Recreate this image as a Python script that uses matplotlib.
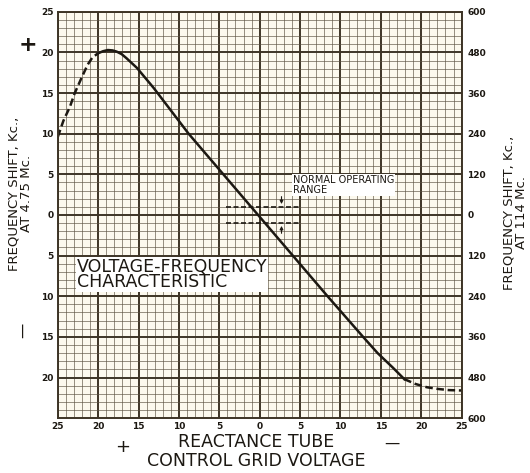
import matplotlib
matplotlib.use("Agg")
import matplotlib.pyplot as plt
from matplotlib.ticker import MultipleLocator, FixedLocator

# grid voltage (left = +25 V, right = -25 V) vs frequency shift in kc at 4.75 Mc
dash_left_v = [25.0, 24.3, 23.5, 22.9, 22.0, 21.3, 20.7, 20.0]
dash_left_f = [9.6, 11.6, 13.3, 15.0, 17.0, 18.5, 19.4, 19.9]

solid_v = [20.0, 19.4, 18.8, 18.2, 17.7, 17.1, 16.5, 15.2, 13.1, 8.8, 4.5,
           0.2, -4.1, -8.4, -12.8, -14.6, -16.5, -17.9]
solid_f = [19.9, 20.15, 20.3, 20.25, 20.1, 19.8, 19.3, 18.1, 15.6, 10.0, 5.0,
           0.0, -5.0, -10.0, -15.0, -17.0, -18.8, -20.2]

dash_right_v = [-17.9, -19.3, -20.7, -22.0, -23.4, -25.0]
dash_right_f = [-20.2, -20.8, -21.2, -21.4, -21.55, -21.6]

# normal operating range limits
range_f = [1.0, -1.0]
range_v = (4.2, -5.0)

x_ticks = [-25, -20, -15, -10, -5, 0, 5, 10, 15, 20, 25]
y_ticks = [-20, -15, -10, -5, 0, 5, 10, 15, 20, 25]
y2_ticks = [-600, -480, -360, -240, -120, 0, 120, 240, 360, 480, 600]

ink = "#1c1812"
grid_col = "#3d3426"
minor_col = "#5c5242"
paper = "#fcf9ee"

fig = plt.figure(figsize=(5.30, 4.73), dpi=100)
ax = fig.add_axes([0.109, 0.116, 0.762, 0.859])
ax.set_facecolor(paper)
ax.set_xlim(25, -25)
ax.set_ylim(-25, 25)

ax.xaxis.set_major_locator(FixedLocator(x_ticks))
ax.set_xticklabels([str(abs(v)) for v in x_ticks])
ax.yaxis.set_major_locator(FixedLocator(y_ticks))
ax.set_yticklabels([str(abs(v)) for v in y_ticks])
ax.xaxis.set_minor_locator(MultipleLocator(1))
ax.yaxis.set_minor_locator(MultipleLocator(1))
ax.grid(which="major", color=grid_col, lw=1.4)
ax.grid(which="minor", color=minor_col, lw=0.45)
ax.set_axisbelow(True)
ax.tick_params(which="both", length=0, labelsize=6.5, colors=ink, pad=3)
for lab in ax.get_xticklabels() + ax.get_yticklabels():
    lab.set_fontweight("bold")
for s in ax.spines.values():
    s.set_color(grid_col)
    s.set_linewidth(1.4)

ax2 = ax.twinx()
ax2.set_ylim(-600, 600)
ax2.yaxis.set_major_locator(FixedLocator(y2_ticks))
ax2.set_yticklabels([str(abs(v)) for v in y2_ticks])
ax2.tick_params(length=0, labelsize=6.5, colors=ink, pad=4)
for lab in ax2.get_yticklabels():
    lab.set_fontweight("bold")
for s in ax2.spines.values():
    s.set_visible(False)

# characteristic curve
ax.plot(dash_left_v, dash_left_f, color=ink, lw=1.8, ls=(0, (3, 1.5)))
ax.plot(solid_v, solid_f, color=ink, lw=1.8)
ax.plot(dash_right_v, dash_right_f, color=ink, lw=1.8, ls=(0, (3, 1.5)))

# normal operating range
for f in range_f:
    ax.plot(range_v, [f, f], color=ink, lw=1.2, ls=(0, (3, 1.5)))
ax.annotate("", xy=(-2.7, range_f[0]), xytext=(-2.7, range_f[0] + 1.6),
            arrowprops=dict(arrowstyle="-|>", color=ink, lw=0.8, mutation_scale=5))
ax.annotate("", xy=(-2.7, range_f[1]), xytext=(-2.7, range_f[1] - 1.6),
            arrowprops=dict(arrowstyle="-|>", color=ink, lw=0.8, mutation_scale=5))
ax.text(-4.1, 3.7, "NORMAL OPERATING\nRANGE", fontsize=7, color=ink,
        ha="left", va="center", linespacing=1.05,
        bbox=dict(facecolor="white", edgecolor="none", pad=0.6))

ax.text(22.6, -7.3, "VOLTAGE-FREQUENCY\nCHARACTERISTIC", fontsize=12.5, color=ink,
        ha="left", va="center", linespacing=0.8,
        bbox=dict(facecolor="white", edgecolor="none", pad=0.5))

# axis titles
fig.text(0.038, 0.59, "FREQUENCY SHIFT, Kc.,\nAT 4.75 Mc.", rotation=90,
         ha="center", va="center", fontsize=9.5, color=ink, linespacing=0.95)
fig.text(0.972, 0.55, "FREQUENCY SHIFT, Kc.,\nAT 114 Mc.", rotation=90,
         ha="center", va="center", fontsize=9.5, color=ink, linespacing=1.0)
fig.text(0.483, 0.045, "REACTANCE TUBE\nCONTROL GRID VOLTAGE", ha="center",
         va="center", fontsize=12.5, color=ink, linespacing=1.08)

fig.text(0.053, 0.905, "+", ha="center", va="center", fontsize=16,
         fontweight="bold", color=ink)
fig.text(0.043, 0.302, "\u2014", rotation=90, ha="center", va="center",
         fontsize=11, color=ink)
fig.text(0.232, 0.055, "+", ha="center", va="center", fontsize=13, color=ink)
fig.text(0.740, 0.062, "\u2014", ha="center", va="center", fontsize=11, color=ink)

fig.savefig("out.png", dpi=100, facecolor="white")
